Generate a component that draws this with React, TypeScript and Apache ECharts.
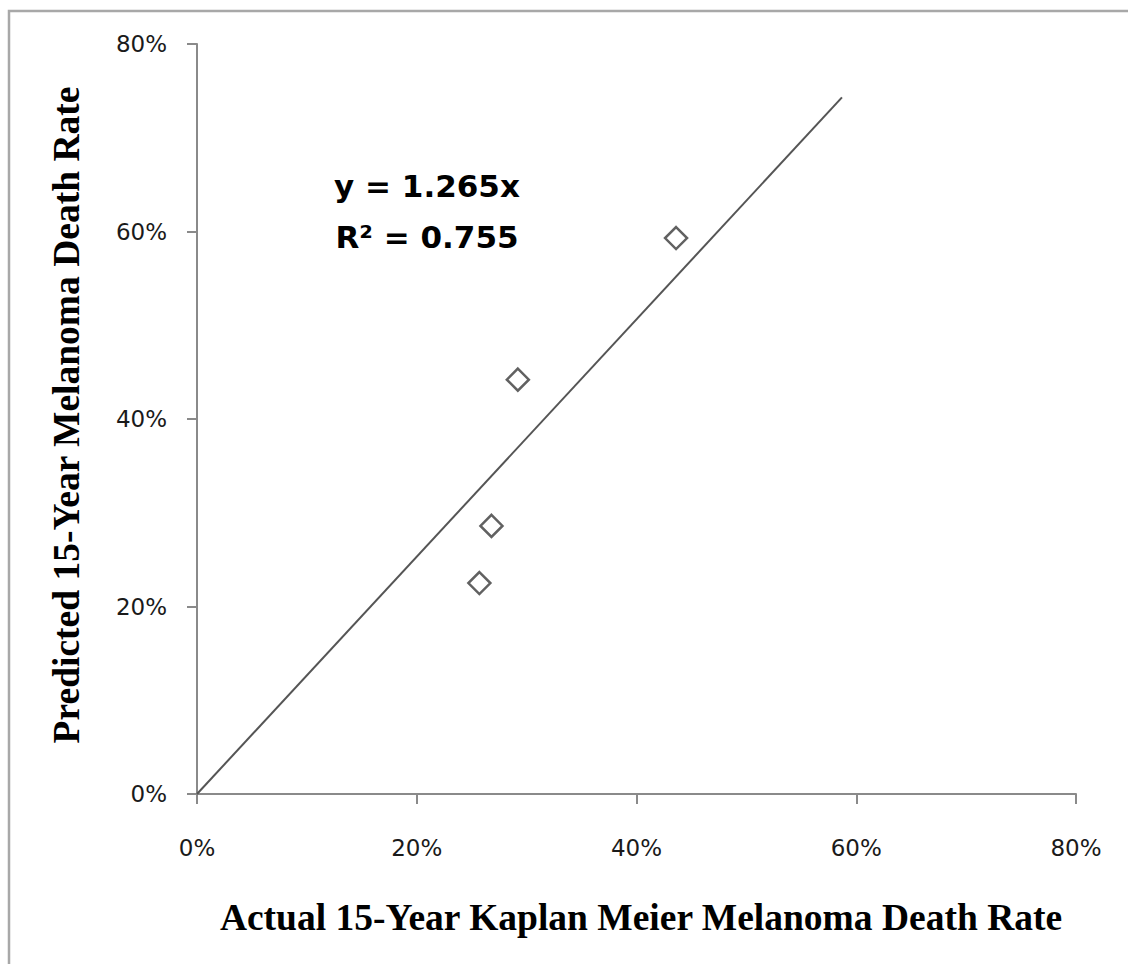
import React, { useEffect, useRef } from "react";
import * as echarts from "echarts";

const xTickLabels = ["0%", "20%", "40%", "60%", "80%"];
const actualRates = [43.6, 29.2, 26.8, 25.7];
const predictedRates = [59.3, 44.2, 28.6, 22.5];
const trendX = [0, 58.7];
const trendY = [0, 74.3];
const equationLines = ["y = 1.265x", "R² = 0.755"];
const xTitle = "Actual 15-Year Kaplan Meier Melanoma Death Rate";
const yTitle = "Predicted 15-Year Melanoma Death Rate";

export default function App() {
  const ref = useRef<HTMLDivElement>(null);
  useEffect(() => {
    if (!ref.current) return;
    const chart = echarts.init(ref.current, null, { renderer: "svg" });
    const axisCommon = {
      type: "value",
      min: 0,
      max: 80,
      interval: 20,
      splitLine: { show: false },
      axisLine: { show: true, onZero: false, lineStyle: { color: "#8a8a8a", width: 2 } },
      axisTick: { show: true, inside: false, length: 10, lineStyle: { color: "#8a8a8a", width: 2 } },
      axisLabel: {
        formatter: (v: number) => xTickLabels[Math.round(v / 20)],
        color: "#1a1a1a",
        fontFamily: "DejaVu Sans",
        fontSize: 23,
      },
    };
    chart.setOption({
      animation: false,
      backgroundColor: "#fff",
      grid: { left: 197, top: 44, right: 52, bottom: 170, containLabel: false },
      xAxis: { ...axisCommon, axisLabel: { ...axisCommon.axisLabel, margin: 42 } },
      yAxis: { ...axisCommon, axisLabel: { ...axisCommon.axisLabel, margin: 30 } },
      series: [
        {
          type: "line",
          data: trendX.map((x, i) => [x, trendY[i]]),
          showSymbol: false,
          symbol: "none",
          lineStyle: { color: "#555", width: 2 },
          z: 1,
        },
        {
          type: "scatter",
          data: actualRates.map((x, i) => [x, predictedRates[i]]),
          symbol: "diamond",
          symbolSize: [22, 22],
          itemStyle: { color: "#fff", borderColor: "#3a3a3a", borderWidth: 2.5 },
          z: 2,
        },
      ],
      graphic: [
        {
          type: "rect",
          shape: { x: 9, y: 11, width: 1200, height: 1000 },
          style: { fill: "none", stroke: "#a8a8a8", lineWidth: 2.5 },
          silent: true,
        },
        {
          type: "text",
          x: 427,
          y: 186,
          style: {
            text: equationLines[0],
            font: "bold 31px 'DejaVu Sans'",
            fill: "#000",
            textAlign: "center",
            textVerticalAlign: "middle",
          },
        },
        {
          type: "text",
          x: 427,
          y: 237,
          style: {
            text: equationLines[1],
            font: "bold 31px 'DejaVu Sans'",
            fill: "#000",
            textAlign: "center",
            textVerticalAlign: "middle",
          },
        },
        {
          type: "text",
          x: 641,
          y: 917,
          style: {
            text: xTitle,
            font: "bold 37.5px 'Liberation Serif'",
            fill: "#000",
            textAlign: "center",
            textVerticalAlign: "middle",
          },
        },
        {
          type: "text",
          x: 66,
          y: 415,
          rotation: Math.PI / 2,
          style: {
            text: yTitle,
            font: "bold 37.5px 'Liberation Serif'",
            fill: "#000",
            textAlign: "center",
            textVerticalAlign: "middle",
          },
        },
      ],
    });
    return () => chart.dispose();
  }, []);
  return (
    <div
      ref={ref}
      style={{ position: "fixed", left: 0, top: 0, width: 1128, height: 964 }}
    />
  );
}
